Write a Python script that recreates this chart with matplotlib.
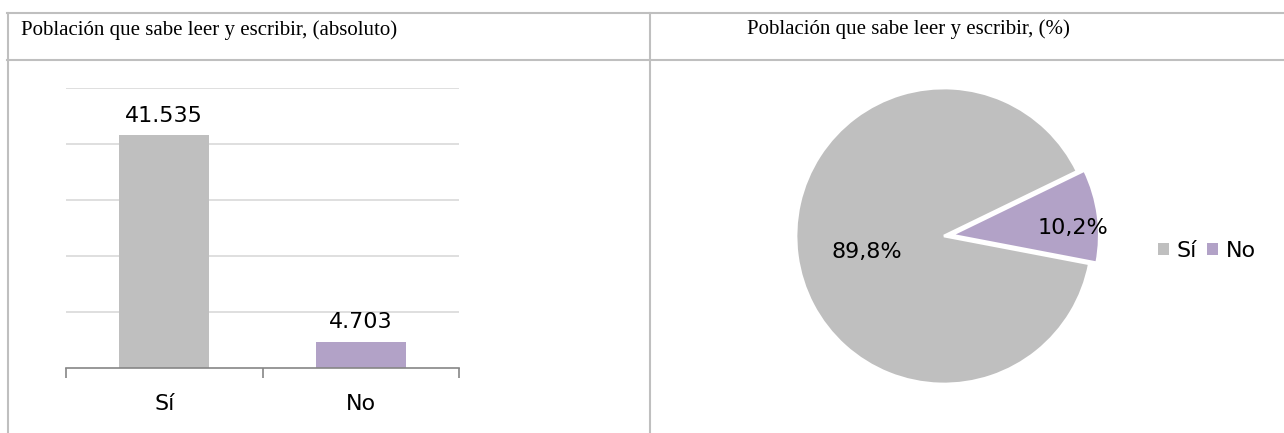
import matplotlib
matplotlib.use("Agg")
import matplotlib.pyplot as plt
import numpy as np
from matplotlib.lines import Line2D
from matplotlib.patches import Rectangle, Patch

# datos
categorias = ["Sí", "No"]
absoluto = [41535, 4703]
porcentaje = [89.8, 10.2]
colores = ["#bfbfbf", "#b2a2c7"]
titulo_abs = "Población que sabe leer y escribir, (absoluto)"
titulo_pct = "Población que sabe leer y escribir, (%)"

W, H = 1284, 433
fig = plt.figure(figsize=(W / 100, H / 100), dpi=100)
fig.patch.set_facecolor("white")


def fx(px):
    return px / W


def fy(py):
    return 1 - py / H


num_font = ["DejaVu Sans"]
tit_font = ["Liberation Serif", "DejaVu Serif"]

# ---- barras ----
ax1 = fig.add_axes([fx(66), fy(368), fx(459) - fx(66), fy(88) - fy(368)])
x = np.arange(len(categorias))
barras = ax1.bar(x, absoluto, width=0.46, color=colores, zorder=2)
ax1.set_xlim(-0.5, 1.5)
ax1.set_ylim(0, 50000)
ax1.set_yticks(np.arange(10000, 50001, 10000))
ax1.yaxis.grid(True, color="#d9d9d9", lw=1.2, zorder=0)
ax1.tick_params(axis="y", length=0, labelleft=False)
for s in ["top", "right", "left"]:
    ax1.spines[s].set_visible(False)
ax1.spines["bottom"].set_color("#868686")
ax1.spines["bottom"].set_linewidth(1.2)
ax1.set_xticks(x)
ax1.set_xticklabels(categorias, fontsize=16, family=num_font)
ax1.tick_params(axis="x", length=0, pad=19)
ax1.set_xticks([-0.5, 0.5, 1.5], minor=True)
ax1.tick_params(axis="x", which="minor", length=7, width=1.2, color="#868686")
for b, v in zip(barras, absoluto):
    txt = f"{v:,}".replace(",", ".")
    ax1.annotate(txt, (b.get_x() + b.get_width() / 2, b.get_height()),
                 xytext=(0, 10), textcoords="offset points",
                 ha="center", va="baseline", fontsize=16, family=num_font)

# ---- pastel ----
R = 148
cx, cy = 944, 236
lim = 1.1
ax2 = fig.add_axes([fx(cx - R * lim), fy(cy + R * lim), 2 * R * lim / W, 2 * R * lim / H])
wedges, textos, auto = ax2.pie(porcentaje, colors=colores, startangle=25.9,
                               explode=[0, 0.05], autopct="%.1f%%",
                               wedgeprops=dict(edgecolor="white", linewidth=2),
                               textprops=dict(fontsize=16, family=num_font))
ax2.set_xlim(-lim, lim)
ax2.set_ylim(-lim, lim)
ax2.set_aspect("equal")
dist = [0.53, 0.82]
giro = [4, -4]
for w, t, d, g in zip(wedges, auto, dist, giro):
    t.set_text(t.get_text().replace(".", ","))
    ang = np.deg2rad((w.theta1 + w.theta2) / 2 + g)
    c = w.center
    t.set_position((c[0] + d * np.cos(ang), c[1] + d * np.sin(ang)))
    t.set_ha("center")
    t.set_va("center")

handles = [Patch(facecolor=c, edgecolor="none") for c in colores]
fig.legend(handles, categorias, loc="center left", bbox_to_anchor=(fx(1158), fy(251)),
           ncol=2, frameon=False, handlelength=0.5, handleheight=0.5,
           handletextpad=0.35, columnspacing=0.45, borderaxespad=0, borderpad=0,
           prop=dict(size=16, family="DejaVu Sans"))

# recorte inferior como en la imagen
fig.add_artist(Rectangle((fx(9), 0), fx(1284) - fx(9), fy(411), transform=fig.transFigure,
                         facecolor="white", edgecolor="none", zorder=5))

# ---- bordes de la tabla ----
gris = "#bfbfbf"
bordes = [
    ((7, 1284), (13, 13)),
    ((7, 1284), (60, 60)),
    ((8, 8), (13, 433)),
    ((650, 650), (13, 433)),
]
for xs, ys in bordes:
    fig.add_artist(Line2D([fx(xs[0]), fx(xs[1])], [fy(ys[0]), fy(ys[1])],
                          transform=fig.transFigure, color=gris, lw=1.5, zorder=6))

fig.text(fx(21), fy(35), titulo_abs, ha="left", va="baseline", fontsize=15, family=tit_font)
fig.text(fx(908), fy(34), titulo_pct, ha="center", va="baseline", fontsize=15, family=tit_font)

fig.savefig("out.png", dpi=100)
